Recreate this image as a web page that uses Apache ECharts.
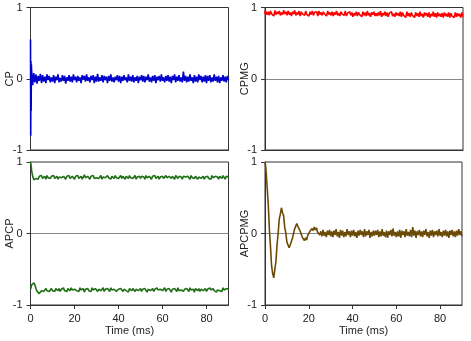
<!DOCTYPE html>
<html>
<head>
<meta charset="utf-8">
<script src="https://cdn.jsdelivr.net/npm/echarts@6/dist/echarts.min.js"></script>
<style>
  html, body { margin: 0; padding: 0; background: #fff; }
  #chart { width: 471px; height: 341px; }
</style>
</head>
<body>
<div id="chart"></div>
<script>
// time axis (ms): a few dense points at the start, then every 0.5 ms
const timeMs = [0, 0.1, 0.2, 0.3, 0.4,
  0.5, 1, 1.5, 2, 2.5, 3, 3.5, 4, 4.5, 5, 5.5, 6, 6.5, 7, 7.5, 8, 8.5, 9, 9.5, 10,
  10.5, 11, 11.5, 12, 12.5, 13, 13.5, 14, 14.5, 15, 15.5, 16, 16.5, 17, 17.5, 18, 18.5, 19, 19.5, 20,
  20.5, 21, 21.5, 22, 22.5, 23, 23.5, 24, 24.5, 25, 25.5, 26, 26.5, 27, 27.5, 28, 28.5, 29, 29.5, 30,
  30.5, 31, 31.5, 32, 32.5, 33, 33.5, 34, 34.5, 35, 35.5, 36, 36.5, 37, 37.5, 38, 38.5, 39, 39.5, 40,
  40.5, 41, 41.5, 42, 42.5, 43, 43.5, 44, 44.5, 45, 45.5, 46, 46.5, 47, 47.5, 48, 48.5, 49, 49.5, 50,
  50.5, 51, 51.5, 52, 52.5, 53, 53.5, 54, 54.5, 55, 55.5, 56, 56.5, 57, 57.5, 58, 58.5, 59, 59.5, 60,
  60.5, 61, 61.5, 62, 62.5, 63, 63.5, 64, 64.5, 65, 65.5, 66, 66.5, 67, 67.5, 68, 68.5, 69, 69.5, 70,
  70.5, 71, 71.5, 72, 72.5, 73, 73.5, 74, 74.5, 75, 75.5, 76, 76.5, 77, 77.5, 78, 78.5, 79, 79.5, 80,
  80.5, 81, 81.5, 82, 82.5, 83, 83.5, 84, 84.5, 85, 85.5, 86, 86.5, 87, 87.5, 88, 88.5, 89, 89.5, 90];

const cp = [0.55, -0.8, 0.25, -0.45, 0.2,
  0.12,-0.09,0.08,-0.05,0.06,-0.07,0.04,-0.03,0.07,-0.06, 0.05,-0.04,0.03,-0.06,0.06,-0.02,0.04,-0.05,0.02,-0.04,
  0.05,-0.06,0.03,-0.02,0.06,-0.05,0.01,-0.04,0.05,-0.03, 0.04,-0.07,0.02,-0.03,0.05,-0.04,0.03,-0.05,0.06,-0.02,
  0.03,-0.05,0.04,-0.03,0.02,-0.06,0.05,-0.01,0.04,-0.04, 0.06,-0.03,0.02,-0.05,0.04,-0.02,0.05,-0.06,0.03,-0.04,
  0.07,-0.04,0.02,-0.03,0.05,-0.05,0.04,-0.02,0.03,-0.06, 0.04,-0.03,0.06,-0.04,0.02,-0.05,0.03,-0.02,0.05,-0.04,
  0.04,-0.06,0.03,-0.03,0.05,-0.02,0.02,-0.05,0.06,-0.03, 0.03,-0.04,0.05,-0.05,0.02,-0.03,0.04,-0.06,0.03,-0.02,
  0.05,-0.04,0.04,-0.05,0.03,-0.02,0.06,-0.04,0.02,-0.05, 0.04,-0.03,0.05,-0.06,0.03,-0.02,0.04,-0.04,0.06,-0.03,
  0.02,-0.05,0.04,-0.03,0.05,-0.04,0.03,-0.06,0.04,-0.02, 0.06,-0.05,0.03,-0.03,0.05,-0.04,0.02,-0.05,0.10,-0.03,
  0.04,-0.05,0.03,-0.04,0.06,-0.03,0.02,-0.06,0.05,-0.04, 0.03,-0.05,0.06,-0.02,0.04,-0.05,0.03,-0.04,0.05,-0.06,
  0.04,-0.03,0.05,-0.05,0.02,-0.04,0.06,-0.03,0.03,-0.05, 0.04,-0.06,0.02,-0.03,0.05,-0.04,0.03,-0.05,0.04,-0.02];

const cpmg = [0.95, 0.91, 0.96, 0.90, 0.94,
  0.96,0.90,0.94,0.89,0.95,0.91,0.93,0.88,0.96,0.90, 0.94,0.91,0.95,0.89,0.93,0.90,0.96,0.91,0.94,0.89,
  0.95,0.90,0.93,0.88,0.94,0.91,0.96,0.89,0.93,0.90, 0.95,0.88,0.94,0.91,0.93,0.89,0.95,0.90,0.92,0.88,
  0.94,0.90,0.95,0.89,0.93,0.91,0.94,0.88,0.95,0.90, 0.93,0.89,0.94,0.91,0.92,0.88,0.95,0.90,0.93,0.89,
  0.94,0.88,0.93,0.90,0.95,0.89,0.92,0.88,0.94,0.91, 0.93,0.89,0.95,0.88,0.92,0.90,0.94,0.89,0.93,0.87,
  0.92,0.89,0.94,0.88,0.93,0.90,0.92,0.87,0.94,0.89, 0.93,0.88,0.95,0.89,0.92,0.87,0.93,0.90,0.94,0.88,
  0.92,0.88,0.93,0.89,0.95,0.87,0.92,0.89,0.94,0.88, 0.93,0.87,0.92,0.90,0.94,0.88,0.91,0.87,0.93,0.89,
  0.92,0.88,0.94,0.87,0.93,0.89,0.91,0.86,0.94,0.88, 0.92,0.87,0.93,0.89,0.91,0.86,0.93,0.88,0.92,0.87,
  0.94,0.88,0.91,0.86,0.93,0.89,0.92,0.87,0.93,0.86, 0.91,0.88,0.94,0.87,0.92,0.86,0.93,0.88,0.91,0.87,
  0.92,0.86,0.93,0.88,0.91,0.87,0.93,0.86,0.92,0.88, 0.90,0.86,0.93,0.87,0.92,0.88,0.91,0.86,0.93,0.87];

const apcpUpper = [1.0, 0.99, 0.97, 0.95, 0.92,
  0.88,0.80,0.75,0.74,0.77,0.79,0.76,0.80,0.78,0.81, 0.77,0.79,0.80,0.76,0.81,0.78,0.79,0.77,0.80,0.78,
  0.81,0.77,0.79,0.80,0.76,0.79,0.81,0.78,0.77,0.80, 0.79,0.76,0.80,0.78,0.81,0.77,0.79,0.80,0.78,0.76,
  0.80,0.78,0.81,0.77,0.79,0.80,0.76,0.79,0.82,0.78, 0.77,0.80,0.79,0.76,0.80,0.78,0.81,0.77,0.79,0.78,
  0.80,0.77,0.79,0.81,0.76,0.79,0.80,0.78,0.77,0.81, 0.78,0.79,0.76,0.80,0.79,0.77,0.81,0.78,0.80,0.77,
  0.79,0.81,0.77,0.80,0.78,0.76,0.80,0.79,0.77,0.81, 0.78,0.80,0.77,0.79,0.81,0.76,0.79,0.78,0.80,0.77,
  0.80,0.78,0.79,0.76,0.81,0.78,0.77,0.80,0.79,0.76, 0.80,0.78,0.81,0.77,0.79,0.80,0.76,0.79,0.78,0.80,
  0.77,0.79,0.81,0.78,0.76,0.80,0.79,0.77,0.80,0.78, 0.76,0.81,0.79,0.77,0.80,0.78,0.79,0.76,0.80,0.78,
  0.79,0.77,0.80,0.78,0.76,0.81,0.78,0.79,0.77,0.80, 0.78,0.76,0.79,0.81,0.77,0.78,0.80,0.76,0.79,0.78,
  0.80,0.77,0.79,0.76,0.81,0.78,0.77,0.80,0.78,0.79, 0.76,0.80,0.78,0.77,0.81,0.79,0.76,0.80,0.78,0.79];

const apcpLower = [-0.78, -0.77, -0.76, -0.75, -0.74,
  -0.72,-0.70,-0.69,-0.72,-0.77,-0.81,-0.83,-0.84,-0.82,-0.80, -0.78,-0.81,-0.79,-0.77,-0.80,-0.78,-0.81,-0.79,-0.77,-0.80,
  -0.78,-0.81,-0.77,-0.79,-0.80,-0.77,-0.81,-0.78,-0.79,-0.76, -0.80,-0.78,-0.81,-0.77,-0.79,-0.80,-0.76,-0.79,-0.81,-0.78,
  -0.77,-0.80,-0.78,-0.81,-0.76,-0.79,-0.80,-0.77,-0.82,-0.78, -0.79,-0.77,-0.80,-0.78,-0.81,-0.76,-0.79,-0.80,-0.77,-0.79,
  -0.81,-0.78,-0.77,-0.80,-0.79,-0.76,-0.81,-0.78,-0.80,-0.77, -0.79,-0.81,-0.76,-0.79,-0.80,-0.78,-0.77,-0.81,-0.79,-0.78,
  -0.80,-0.77,-0.79,-0.81,-0.78,-0.76,-0.80,-0.79,-0.82,-0.77, -0.78,-0.80,-0.77,-0.79,-0.81,-0.78,-0.76,-0.80,-0.79,-0.77,
  -0.81,-0.78,-0.80,-0.77,-0.79,-0.82,-0.78,-0.76,-0.80,-0.79, -0.77,-0.81,-0.78,-0.80,-0.76,-0.79,-0.81,-0.78,-0.77,-0.80,
  -0.79,-0.76,-0.81,-0.78,-0.80,-0.77,-0.79,-0.82,-0.78,-0.80, -0.77,-0.79,-0.81,-0.76,-0.80,-0.78,-0.79,-0.77,-0.81,-0.78,
  -0.80,-0.77,-0.79,-0.81,-0.76,-0.79,-0.80,-0.78,-0.82,-0.77, -0.79,-0.80,-0.77,-0.81,-0.78,-0.76,-0.80,-0.79,-0.77,-0.81,
  -0.78,-0.80,-0.76,-0.79,-0.81,-0.77,-0.80,-0.78,-0.82,-0.79, -0.77,-0.80,-0.78,-0.81,-0.76,-0.79,-0.80,-0.77,-0.79,-0.78];

const apcpmg = [1.0, 0.99, 0.97, 0.94, 0.91,
  0.87,0.64,0.40,0.06,-0.18,-0.45,-0.56,-0.62,-0.50,-0.39, -0.16,0.00,0.20,0.27,0.36,0.29,0.25,0.09,0.01,-0.12,
  -0.14,-0.20,-0.16,-0.17,-0.07,-0.05,0.06,0.07,0.14,0.10, 0.12,0.04,0.03,-0.05,-0.04,-0.10,-0.06,-0.09,-0.03,-0.04,
  0.03,0.01,0.07,0.04,0.09,0.05,0.08,0.02,0.04,-0.02, 0.03,-0.04,0.05,-0.03,0.02,-0.05,0.04,-0.02,0.05,-0.04,
  0.03,-0.05,0.04,-0.02,0.06,-0.04,0.02,-0.06,0.05,-0.03, 0.04,-0.05,0.02,-0.04,0.06,-0.02,0.03,-0.05,0.04,-0.03,
  0.05,-0.04,0.02,-0.06,0.04,-0.03,0.05,-0.02,0.03,-0.05, 0.06,-0.04,0.03,-0.02,0.05,-0.06,0.02,-0.04,0.04,-0.03,
  0.04,-0.02,0.05,-0.05,0.03,-0.04,0.06,-0.03,0.02,-0.05, 0.04,-0.06,0.03,-0.02,0.05,-0.04,0.07,-0.03,0.02,-0.05,
  0.03,-0.04,0.05,-0.06,0.04,-0.02,0.03,-0.05,0.06,-0.03, 0.02,-0.04,0.05,-0.05,0.09,-0.03,0.04,-0.06,0.03,-0.02,
  0.05,-0.04,0.03,-0.05,0.04,-0.02,0.06,-0.04,0.02,-0.06, 0.04,-0.03,0.05,-0.05,0.03,-0.02,0.04,-0.04,0.06,-0.03,
  0.02,-0.05,0.04,-0.03,0.05,-0.04,0.03,-0.06,0.04,-0.02, 0.05,-0.04,0.03,-0.05,0.04,-0.03,0.06,-0.02,0.03,-0.04];

const panelNames = ['CP', 'CPMG', 'APCP', 'APCPMG'];

const font = 'Liberation Sans, Arial, Helvetica, sans-serif';
const axisColor = '#333';

const pair = (ys) => timeMs.map((t, i) => [t, ys[i]]);

// grids: top-left, top-right, bottom-left, bottom-right
const grids = [
  { left: 30.5, top: 7.5, width: 198, height: 142.5 },
  { left: 265, top: 7.5, width: 198, height: 142.5 },
  { left: 30.5, top: 162, width: 198, height: 143 },
  { left: 265, top: 162, width: 197, height: 143 }
].map(g => Object.assign({
  show: true, borderColor: axisColor, borderWidth: 1,
  containLabel: false, outerBoundsMode: 'none'
}, g));

const xAxes = grids.map((g, i) => {
  const bottom = i >= 2;
  return {
    type: 'value', gridIndex: i, min: 0, max: 90, interval: 20,
    name: bottom ? 'Time (ms)' : '',
    nameLocation: 'middle', nameGap: 20, nameMoveOverlap: false,
    nameTextStyle: { fontFamily: font, fontSize: 11, color: '#222' },
    axisLine: { show: true, onZero: false, lineStyle: { color: axisColor } },
    axisTick: { show: bottom, length: 4, lineStyle: { color: axisColor } },
    axisLabel: { show: bottom, margin: 8, fontFamily: font, fontSize: 11, color: '#222', showMaxLabel: false },
    splitLine: { show: false }
  };
});

const yAxes = grids.map((g, i) => ({
  type: 'value', gridIndex: i, min: -1, max: 1, interval: 1,
  name: panelNames[i], nameLocation: 'middle', nameGap: 15, nameRotate: 90, nameMoveOverlap: false,
  nameTextStyle: { fontFamily: font, fontSize: 11, color: '#222' },
  axisLine: { show: true, onZero: false, lineStyle: { color: axisColor } },
  axisTick: { show: true, length: 4, lineStyle: { color: axisColor } },
  axisLabel: { margin: 8, fontFamily: font, fontSize: 11, color: '#222' },
  splitLine: { show: true, showMinLine: false, showMaxLine: false, lineStyle: { color: '#888', width: 1 } }
}));

const line = (idx, ys, color) => ({
  type: 'line', xAxisIndex: idx, yAxisIndex: idx, data: pair(ys),
  showSymbol: false, animation: false,
  lineStyle: { color: color, width: 1.6 }
});

const chart = echarts.init(document.getElementById('chart'));
chart.setOption({
  animation: false,
  grid: grids,
  xAxis: xAxes,
  yAxis: yAxes,
  series: [
    line(0, cp, '#0000cc'),
    line(1, cpmg, '#ff0000'),
    line(2, apcpUpper, '#1f6e16'),
    line(2, apcpLower, '#1f6e16'),
    line(3, apcpmg, '#6b4a05')
  ]
});
</script>
</body>
</html>
